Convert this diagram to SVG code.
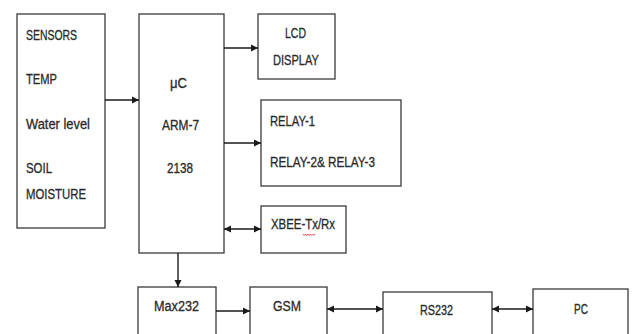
<svg xmlns="http://www.w3.org/2000/svg" width="632" height="334" viewBox="0 0 632 334">
<style>
.box{fill:#ffffff;stroke:#3a3a3a;stroke-width:1.3}
.t{font-family:"Liberation Sans",Arial,sans-serif;font-size:14px;fill:#2a2a2a;stroke:#2a2a2a;stroke-width:0.3}
.c{stroke:#1a1a1a;stroke-width:1.4;fill:none}
</style>
<defs>
<marker id="ah" markerUnits="userSpaceOnUse" markerWidth="8" markerHeight="8" refX="7" refY="4" orient="auto-start-reverse">
<path d="M0,0.5 L7,4 L0,7.5 z" fill="#1a1a1a"/>
</marker>
</defs>
<rect width="632" height="334" fill="#ffffff"/>
<g id="sensors">
<rect class="box" x="17" y="14" width="88" height="214"/>
<text class="t" x="26" y="40" textLength="51" lengthAdjust="spacingAndGlyphs">SENSORS</text>
<text class="t" x="26" y="84" textLength="31" lengthAdjust="spacingAndGlyphs">TEMP</text>
<text class="t" x="26" y="129" textLength="64" lengthAdjust="spacingAndGlyphs">Water level</text>
<text class="t" x="26" y="173" textLength="26" lengthAdjust="spacingAndGlyphs">SOIL</text>
<text class="t" x="26" y="199" textLength="60" lengthAdjust="spacingAndGlyphs">MOISTURE</text>
</g>
<g id="uc">
<rect class="box" x="139" y="14" width="85" height="239"/>
<text class="t" x="170" y="88" textLength="17" lengthAdjust="spacingAndGlyphs">μC</text>
<text class="t" x="162" y="130" textLength="37" lengthAdjust="spacingAndGlyphs">ARM-7</text>
<text class="t" x="167" y="173" textLength="26" lengthAdjust="spacingAndGlyphs">2138</text>
</g>
<g id="lcd">
<rect class="box" x="258" y="14" width="77" height="65"/>
<text class="t" x="285" y="38" textLength="21" lengthAdjust="spacingAndGlyphs">LCD</text>
<text class="t" x="273" y="65" textLength="46" lengthAdjust="spacingAndGlyphs">DISPLAY</text>
</g>
<g id="relay">
<rect class="box" x="261" y="100" width="140" height="86"/>
<text class="t" x="270" y="126" textLength="45" lengthAdjust="spacingAndGlyphs">RELAY-1</text>
<text class="t" x="270" y="167" textLength="105" lengthAdjust="spacingAndGlyphs">RELAY-2&amp; RELAY-3</text>
</g>
<g id="xbee">
<rect class="box" x="261" y="206" width="85" height="47"/>
<text class="t" x="271" y="229" textLength="64" lengthAdjust="spacingAndGlyphs">XBEE-Tx/Rx</text>
<path d="M303,234 l1.2,1.5 l1.2,-1.5 l1.2,1.5 l1.2,-1.5 l1.2,1.5 l1.2,-1.5 l1.2,1.5 l1.2,-1.5 l1.2,1.5 l1.2,-1.5" fill="none" stroke="#e03030" stroke-width="0.8"/>
</g>
<g id="max232">
<rect class="box" x="138" y="287" width="78" height="60"/>
<text class="t" x="154" y="311" textLength="45" lengthAdjust="spacingAndGlyphs">Max232</text>
</g>
<g id="gsm">
<rect class="box" x="250" y="287" width="77" height="60"/>
<text class="t" x="273" y="311" textLength="28" lengthAdjust="spacingAndGlyphs">GSM</text>
</g>
<g id="rs232">
<rect class="box" x="383" y="292" width="109" height="60"/>
<text class="t" x="420" y="315" textLength="33" lengthAdjust="spacingAndGlyphs">RS232</text>
</g>
<g id="pc">
<rect class="box" x="533" y="289" width="95" height="60"/>
<text class="t" x="574" y="314" textLength="14" lengthAdjust="spacingAndGlyphs">PC</text>
</g>
<g id="connectors">
<line class="c" x1="105" y1="100" x2="139" y2="100" marker-end="url(#ah)"/>
<line class="c" x1="224" y1="48" x2="258" y2="48" marker-end="url(#ah)"/>
<line class="c" x1="224" y1="143" x2="261" y2="143" marker-end="url(#ah)"/>
<line class="c" x1="224" y1="229" x2="261" y2="229" marker-start="url(#ah)" marker-end="url(#ah)"/>
<line class="c" x1="178" y1="253" x2="178" y2="287" marker-end="url(#ah)"/>
<line class="c" x1="216" y1="311" x2="250" y2="311" marker-end="url(#ah)"/>
<line class="c" x1="327" y1="309" x2="383" y2="309" marker-start="url(#ah)" marker-end="url(#ah)"/>
<line class="c" x1="492" y1="309" x2="533" y2="309" marker-start="url(#ah)" marker-end="url(#ah)"/>
</g>
</svg>
